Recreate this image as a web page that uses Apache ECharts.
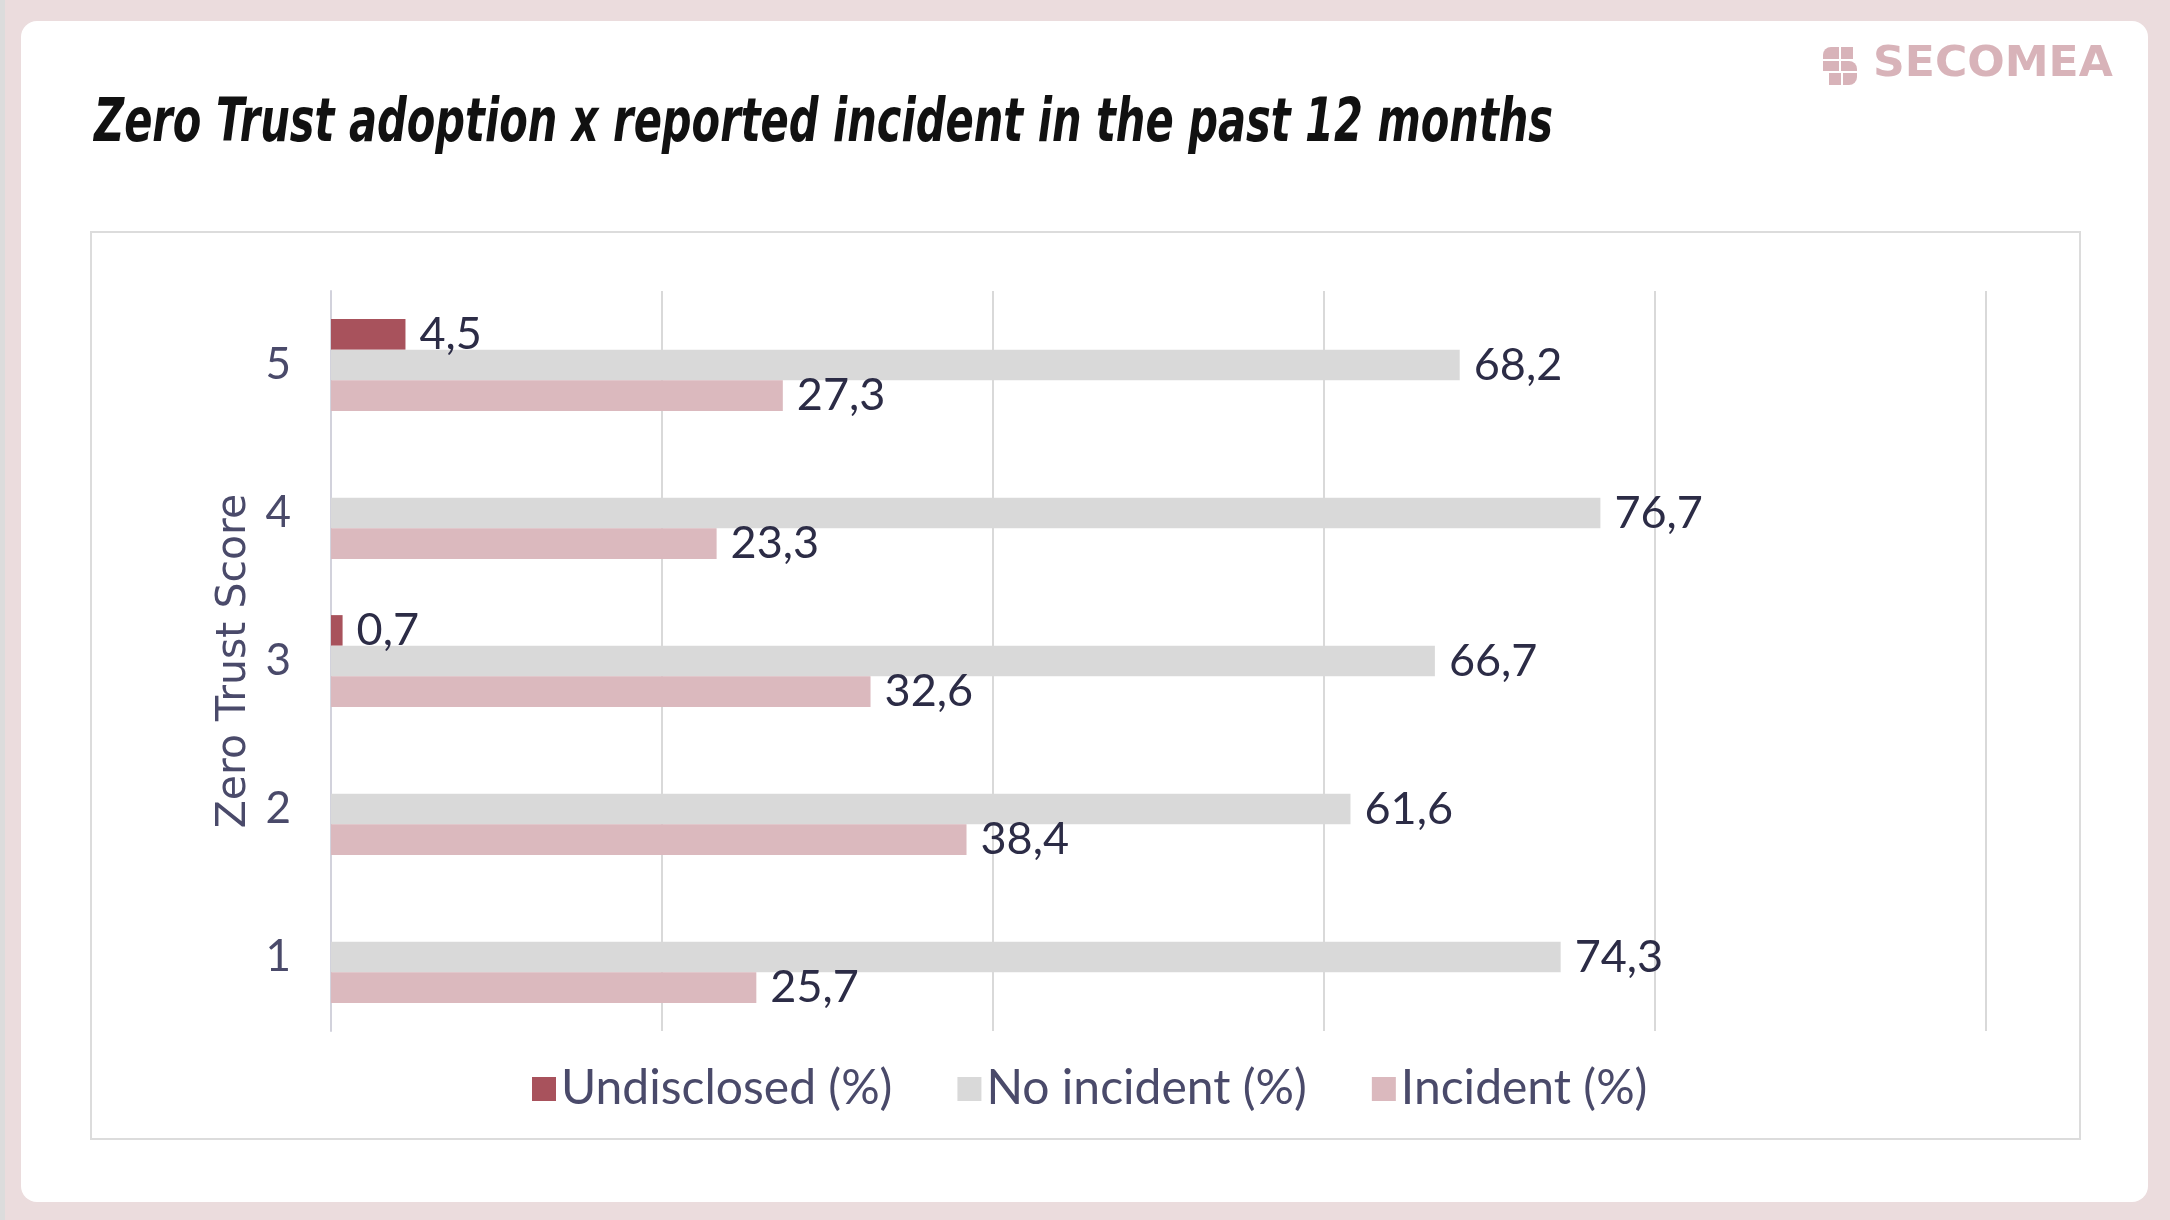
<!DOCTYPE html>
<html>
<head>
<meta charset="utf-8">
<script src="https://cdn.jsdelivr.net/npm/echarts@6/dist/echarts.min.js"></script>
<style>
html,body{margin:0;padding:0;width:2170px;height:1220px;overflow:hidden;background:#ebdcdd;}
#edge{position:absolute;left:0;top:0;width:5px;height:1220px;background:#dcdcdc;}
#card{position:absolute;left:21px;top:21px;width:2127px;height:1181px;background:#fff;border-radius:16px;}
#frame{position:absolute;left:90px;top:231px;width:1987px;height:905px;border:2px solid #dcdcdc;}
#chart{position:absolute;left:0;top:0;width:2170px;height:1220px;}
</style>
</head>
<body>
<div id="edge"></div>
<div id="card"></div>
<div id="frame"></div>
<div id="chart"></div>
<script>
const categories = ['1', '2', '3', '4', '5'];
const seriesNames = ['Undisclosed (%)', 'No incident (%)', 'Incident (%)'];
const undisclosed = [null, null, 0.7, null, 4.5];
const noIncident = [74.3, 61.6, 66.7, 76.7, 68.2];
const incident = [25.7, 38.4, 32.6, 23.3, 27.3];
const titleText = 'Zero Trust adoption x reported incident in the past 12 months';
const axisName = 'Zero Trust Score';

const colors = ['#a8525c', '#d9d9d9', '#dbb9be'];
const chart = echarts.init(document.getElementById('chart'));
const labelCfg = {
  show: true, position: 'right', distance: 14,
  color: '#2c2c46', fontSize: 45, fontFamily: 'Lato',
  formatter: p => (p.value == null ? '' : String(p.value).replace('.', ','))
};
const mk = (name, data, i) => ({
  name, type: 'bar', data, barGap: '0%', barCategoryGap: '38%',
  itemStyle: { color: colors[i] }, label: labelCfg, silent: true
});
chart.setOption({
  animation: false,
  grid: { left: 331, right: 184, top: 291, bottom: 189 },
  xAxis: {
    type: 'value', min: 0, max: 100, interval: 20,
    axisLabel: { show: false }, axisLine: { show: false }, axisTick: { show: false },
    splitLine: { lineStyle: { color: '#d9d9d9', width: 2 } }
  },
  yAxis: {
    type: 'category', data: categories,
    axisLine: { show: true, lineStyle: { color: '#d2d2dc', width: 2 } },
    axisTick: { show: false },
    axisLabel: { color: '#4a4a6a', fontSize: 44, fontFamily: 'Lato', margin: 40 },
    name: axisName, nameLocation: 'middle', nameGap: 76, nameRotate: 90,
    nameTextStyle: { color: '#4a4a6a', fontSize: 41, fontFamily: 'DejaVu Sans' }
  },
  legend: {
    data: seriesNames, left: 527, top: 1057, icon: 'rect',
    itemWidth: 24, itemHeight: 24, itemGap: 65,
    textStyle: { color: '#4a4a6a', fontSize: 48, fontFamily: 'Lato', lineHeight: 54 }
  },
  series: [mk(seriesNames[0], undisclosed, 0), mk(seriesNames[1], noIncident, 1), mk(seriesNames[2], incident, 2)],
  graphic: [
    { type: 'text', x: 94, y: 125, scaleX: 0.693,
      style: { x: 0, y: 0, text: titleText, fill: '#111', fontSize: 60, fontStyle: 'italic', fontFamily: 'DejaVu Sans', fontWeight: 'bold', verticalAlign: 'middle' } },
    { type: 'text', left: 1873, top: 44, scaleX: 1.05,
      style: { text: 'SECOMEA', fill: '#d8b3b9', fontSize: 42, fontFamily: 'DejaVu Sans', fontWeight: 'bold' } },
    { type: 'group', left: 1823, top: 47, children: [
      { type: 'rect', shape: { x: 0, y: 0, width: 16, height: 12, r: [8, 0, 0, 0] }, style: { fill: '#d8b3b9' } },
      { type: 'rect', shape: { x: 18, y: 0, width: 12, height: 12 }, style: { fill: '#d8b3b9' } },
      { type: 'rect', shape: { x: 0, y: 14, width: 16, height: 10 }, style: { fill: '#d8b3b9' } },
      { type: 'rect', shape: { x: 18, y: 14, width: 16, height: 10, r: [0, 8, 0, 0] }, style: { fill: '#d8b3b9' } },
      { type: 'rect', shape: { x: 6, y: 26, width: 12, height: 12 }, style: { fill: '#d8b3b9' } },
      { type: 'rect', shape: { x: 20, y: 26, width: 14, height: 12, r: [0, 0, 8, 0] }, style: { fill: '#d8b3b9' } }
    ] }
  ]
});
</script>
</body>
</html>
